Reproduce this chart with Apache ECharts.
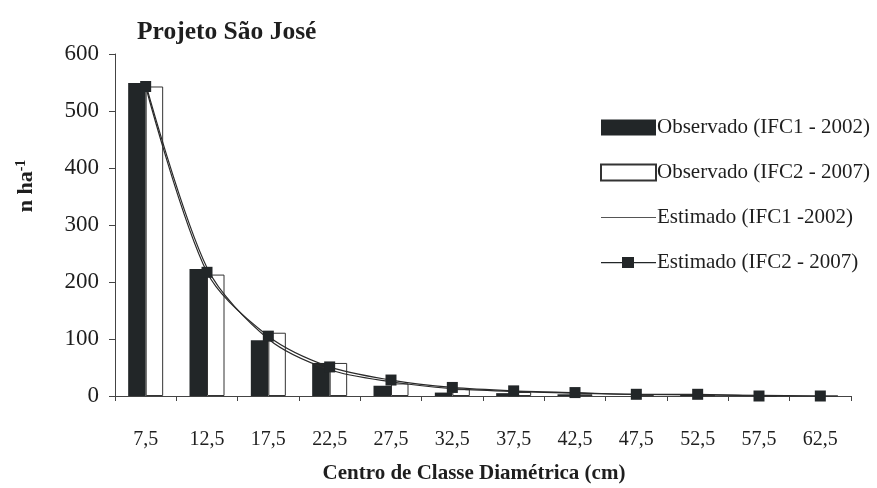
<!DOCTYPE html>
<html>
<head>
<meta charset="utf-8">
<script src="https://cdn.jsdelivr.net/npm/echarts@6/dist/echarts.min.js"></script>
<style>
html,body{margin:0;padding:0;background:#fff;}
#chart{width:877px;height:488px;}
</style>
</head>
<body>
<div id="chart"></div>
<script>
var categories = ['7,5','12,5','17,5','22,5','27,5','32,5','37,5','42,5','47,5','52,5','57,5','62,5'];
var observado2002 = [549, 223, 98, 58, 18, 6, 5, 3, 0, 2, 0, 0];
var observado2007 = [543, 213, 111, 58, 22, 12, 7, 3, 1, 1, 0, 0];
var estimado2002 = [548, 225, 100, 46, 25, 13, 8, 5, 3, 2, 1, 0];
var estimado2007 = [543, 217, 105, 51, 28, 15, 9, 6, 3, 3, 0, 0];
var yTicks = [0, 100, 200, 300, 400, 500, 600];

var serif = 'Liberation Serif';
var ink = '#1e1e1e';
var lineIcon = 'path://M0,0 L55,0 L55,1.2 L0,1.2 Z';
var lineSquareIcon = 'path://M0,5 L21,5 L21,0 L33,0 L33,5 L55,5 L55,6.2 L33,6.2 L33,11 L21,11 L21,6.2 L0,6.2 Z';
var chart = echarts.init(document.getElementById('chart'), null, {renderer: 'canvas'});
chart.setOption({
  animation: false,
  backgroundColor: '#ffffff',
  title: {
    text: 'Projeto São José',
    left: 137, top: 19, padding: 0,
    textStyle: {fontFamily: serif, fontWeight: 'bold', fontSize: 25.5, color: ink}
  },
  legend: {
    orient: 'vertical',
    left: 600, top: 117, padding: 0,
    itemWidth: 55, itemHeight: 16, itemGap: 24,
    textStyle: {fontFamily: serif, fontSize: 21, lineHeight: 20, color: ink, padding: [0,0,0,-4]},
    data: [
      {name: 'Observado (IFC1 - 2002)', icon: 'rect'},
      {name: 'Observado (IFC2 - 2007)', icon: 'rect'},
      {name: 'Estimado (IFC1 -2002)', icon: lineIcon, itemStyle: {color: '#555', borderWidth: 0}},
      {name: 'Estimado (IFC2 - 2007)', icon: lineSquareIcon, itemStyle: {color: '#222628', borderWidth: 0}}
    ]
  },
  grid: {left: 115, right: 26, top: 54, bottom: 92, containLabel: false, outerBoundsMode: 'none'},
  xAxis: {
    type: 'category',
    data: categories,
    name: 'Centro de Classe Diamétrica (cm)',
    nameLocation: 'middle',
    nameGap: 67,
    nameTextStyle: {fontFamily: serif, fontWeight: 'bold', fontSize: 21, color: ink, padding: [0, 18, 0, 0]},
    axisLine: {lineStyle: {color: '#444', width: 1}},
    axisTick: {show: true, length: 5, lineStyle: {color: '#444'}},
    axisLabel: {fontFamily: serif, fontSize: 20, color: ink, margin: 34}
  },
  yAxis: {
    type: 'value',
    min: yTicks[0], max: yTicks[yTicks.length - 1], interval: 100,
    name: 'n ha{sup|-1}',
    nameLocation: 'middle',
    nameGap: 77,
    nameRotate: 90,
    nameTextStyle: {
      fontFamily: serif, fontWeight: 'bold', fontSize: 22, color: ink, padding: [0, 0, 0, 78],
      rich: {sup: {fontFamily: serif, fontWeight: 'bold', fontSize: 14, verticalAlign: 'top', padding: [0,0,10,0], color: ink}}
    },
    axisLine: {show: true, lineStyle: {color: '#444', width: 1}},
    axisTick: {show: true, length: 6, lineStyle: {color: '#444'}},
    splitLine: {show: false},
    axisLabel: {fontFamily: serif, fontSize: 23, color: ink, margin: 16}
  },
  series: [
    {
      name: 'Observado (IFC1 - 2002)', type: 'bar', data: observado2002,
      barWidth: 17.5, barGap: '0%',
      itemStyle: {color: '#222628', borderColor: '#222628', borderWidth: 0}
    },
    {
      name: 'Observado (IFC2 - 2007)', type: 'bar', data: observado2007,
      barWidth: 17.5, barGap: '0%',
      itemStyle: {color: '#ffffff', borderColor: '#333', borderWidth: 1}
    },
    {
      name: 'Estimado (IFC1 -2002)', type: 'line', data: estimado2002,
      smooth: 0.3, symbol: 'none', showSymbol: false, z: 5,
      lineStyle: {color: '#2a2a2a', width: 1.2},
      itemStyle: {color: '#2a2a2a'}
    },
    {
      name: 'Estimado (IFC2 - 2007)', type: 'line', data: estimado2007,
      smooth: 0.3, symbol: 'rect', symbolSize: 11, z: 6,
      lineStyle: {color: '#2a2a2a', width: 1.2},
      itemStyle: {color: '#222628'}
    }
  ]
});
</script>
</body>
</html>
